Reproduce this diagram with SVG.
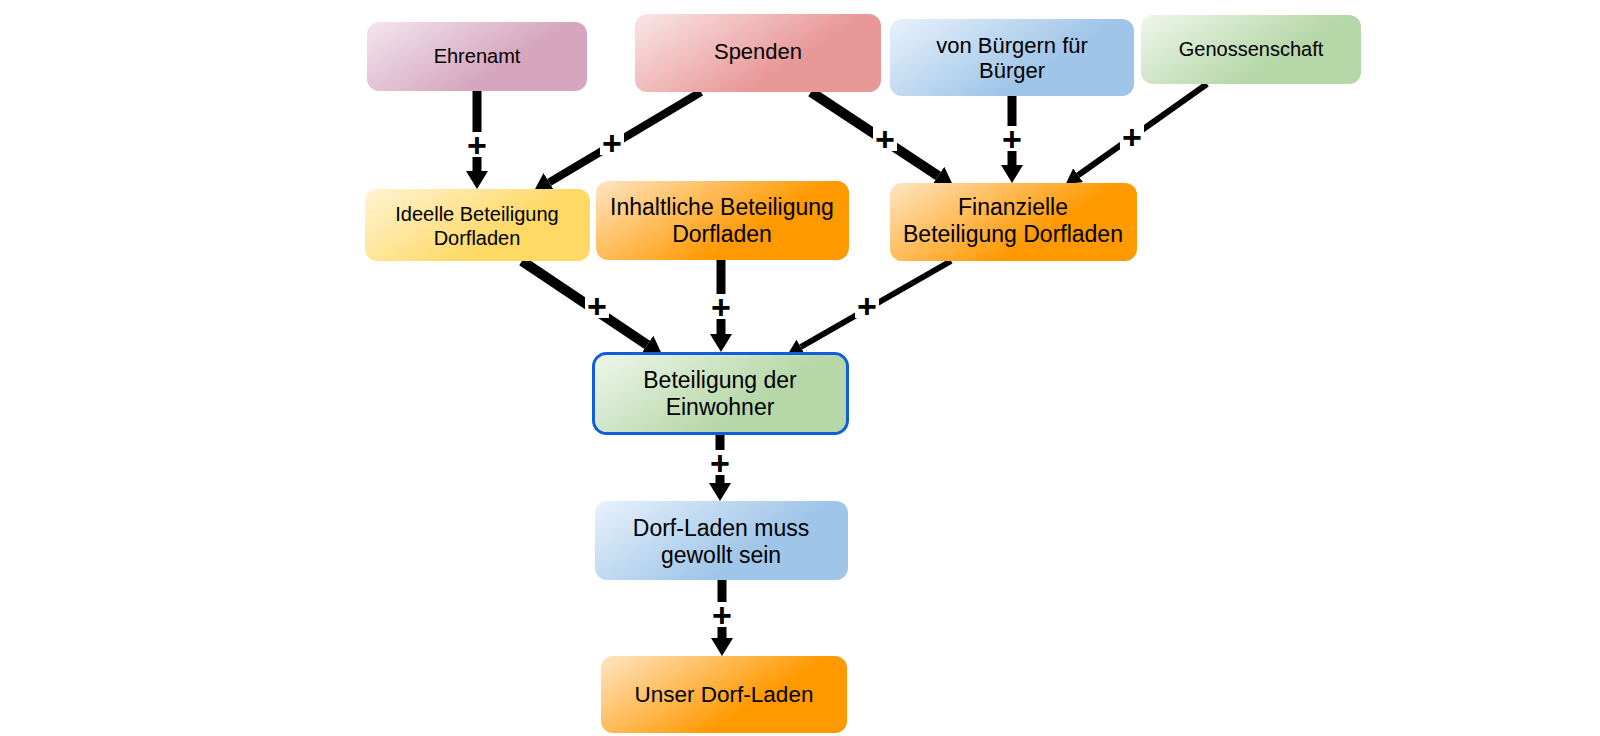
<svg xmlns="http://www.w3.org/2000/svg" width="1600" height="736" viewBox="0 0 1600 736">
<style>
.t{font-family:"Liberation Sans",Arial,sans-serif;fill:#000;text-anchor:middle}
.s20{font-size:20px}
.s22{font-size:22px}
.s23{font-size:23px}
.ln{stroke:#000;fill:none;stroke-linecap:butt}
.w9{stroke-width:9;marker-end:url(#ah)}
.w10{stroke-width:10;marker-end:url(#ah)}
.w8{stroke-width:8;marker-end:url(#ah)}
.w6{stroke-width:6;marker-end:url(#ahs)}
.gap{fill:#fff}
.plus{font-family:"Liberation Sans",Arial,sans-serif;font-weight:bold;font-size:34px;text-anchor:middle;fill:#000}
</style>
<defs>
<linearGradient id="gPink" x1="0" y1="0" x2="1" y2="0.5"><stop offset="0" stop-color="#f3e6ee"/><stop offset="0.75" stop-color="#d5a6bd"/></linearGradient>
<linearGradient id="gRed" x1="0" y1="0" x2="1" y2="0.5"><stop offset="0" stop-color="#fae6e6"/><stop offset="0.75" stop-color="#e99898"/></linearGradient>
<linearGradient id="gBlue" x1="0" y1="0" x2="1" y2="0.5"><stop offset="0" stop-color="#e9f2fb"/><stop offset="0.75" stop-color="#9fc5e8"/></linearGradient>
<linearGradient id="gGreen" x1="0" y1="0" x2="1" y2="0.5"><stop offset="0" stop-color="#eff7ec"/><stop offset="0.75" stop-color="#b6d7a8"/></linearGradient>
<linearGradient id="gYellow" x1="0" y1="0" x2="1" y2="0.5"><stop offset="0" stop-color="#fff4d4"/><stop offset="0.75" stop-color="#ffd966"/></linearGradient>
<linearGradient id="gOrange" x1="0" y1="0" x2="1" y2="0.5"><stop offset="0" stop-color="#fee5c4"/><stop offset="0.75" stop-color="#ff9900"/></linearGradient>
<marker id="ah" viewBox="0 0 18 22" refX="0" refY="11" markerWidth="18" markerHeight="22" markerUnits="userSpaceOnUse" orient="auto"><path d="M0,0 L18,11 L0,22 Z" fill="#000"/></marker>
<marker id="ahs" viewBox="0 0 15 17" refX="0" refY="8.5" markerWidth="15" markerHeight="17" markerUnits="userSpaceOnUse" orient="auto"><path d="M0,0 L15,8.5 L0,17 Z" fill="#000"/></marker>
</defs>

<g id="connectors">
<path class="ln w9" d="M477,91 L477,171"/>
<path class="ln w8" d="M701,92 L549.2,182.4"/>
<path class="ln w10" d="M811,92 L938.2,175.9"/>
<path class="ln w9" d="M1012,96 L1012,165"/>
<path class="ln w6" d="M1207,84 L1078.1,175.2"/>
<path class="ln w10" d="M522,261 L647.2,344.8"/>
<path class="ln w9" d="M721,260 L721,334"/>
<path class="ln w6" d="M951,261 L800.7,347"/>
<path class="ln w9" d="M720,435 L720,483"/>
<path class="ln w9" d="M722,580 L722,638"/>
<g id="labels">
<rect class="gap" x="465" y="132" width="24" height="25"/><text class="plus" x="477" y="157">+</text>
<rect class="gap" x="600" y="130" width="24" height="25"/><text class="plus" x="612" y="155">+</text>
<rect class="gap" x="873" y="126" width="24" height="25"/><text class="plus" x="885" y="151">+</text>
<rect class="gap" x="1000" y="126" width="24" height="25"/><text class="plus" x="1012" y="151">+</text>
<rect class="gap" x="1120" y="124" width="24" height="25"/><text class="plus" x="1132" y="149">+</text>
<rect class="gap" x="585" y="293" width="24" height="25"/><text class="plus" x="597" y="318">+</text>
<rect class="gap" x="709" y="294" width="24" height="25"/><text class="plus" x="721" y="319">+</text>
<rect class="gap" x="855" y="293" width="24" height="25"/><text class="plus" x="867" y="318">+</text>
<rect class="gap" x="708" y="450" width="24" height="25"/><text class="plus" x="720" y="475">+</text>
<rect class="gap" x="710" y="602" width="24" height="25"/><text class="plus" x="722" y="627">+</text>
</g>
</g>

<g id="n-ehrenamt"><rect x="367" y="22" width="220" height="69" rx="12" fill="url(#gPink)"/><text class="t s20" x="477" y="63">Ehrenamt</text></g>
<g id="n-spenden"><rect x="635" y="14" width="246" height="78" rx="12" fill="url(#gRed)"/><text class="t s22" x="758" y="59">Spenden</text></g>
<g id="n-buerger"><rect x="890" y="19" width="244" height="77" rx="12" fill="url(#gBlue)"/><text class="t s22" x="1012" y="53">von Bürgern für</text><text class="t s22" x="1012" y="78">Bürger</text></g>
<g id="n-genossenschaft"><rect x="1141" y="15" width="220" height="69" rx="12" fill="url(#gGreen)"/><text class="t s20" x="1251" y="56">Genossenschaft</text></g>
<g id="n-ideelle"><rect x="365" y="189" width="225" height="72" rx="12" fill="url(#gYellow)"/><text class="t s20" x="477" y="221">Ideelle Beteiligung</text><text class="t s20" x="477" y="245">Dorfladen</text></g>
<g id="n-inhaltliche"><rect x="596" y="181" width="253" height="79" rx="12" fill="url(#gOrange)"/><text class="t s23" x="722" y="215">Inhaltliche Beteiligung</text><text class="t s23" x="722" y="242">Dorfladen</text></g>
<g id="n-finanzielle"><rect x="890" y="183" width="247" height="78" rx="12" fill="url(#gOrange)"/><text class="t s23" x="1013" y="215">Finanzielle</text><text class="t s23" x="1013" y="242">Beteiligung Dorfladen</text></g>
<g id="n-beteiligung"><rect x="593.5" y="353.5" width="254" height="80" rx="13" fill="url(#gGreen)" stroke="#0f5fdc" stroke-width="3"/><text class="t s23" x="720" y="388">Beteiligung der</text><text class="t s23" x="720" y="415">Einwohner</text></g>
<g id="n-dorfladen"><rect x="595" y="501" width="253" height="79" rx="12" fill="url(#gBlue)"/><text class="t s23" x="721" y="536">Dorf-Laden muss</text><text class="t s23" x="721" y="563">gewollt sein</text></g>
<g id="n-unser"><rect x="601" y="656" width="246" height="77" rx="12" fill="url(#gOrange)"/><text class="t" style="font-size:22.5px" x="724" y="702">Unser Dorf-Laden</text></g>
</svg>
